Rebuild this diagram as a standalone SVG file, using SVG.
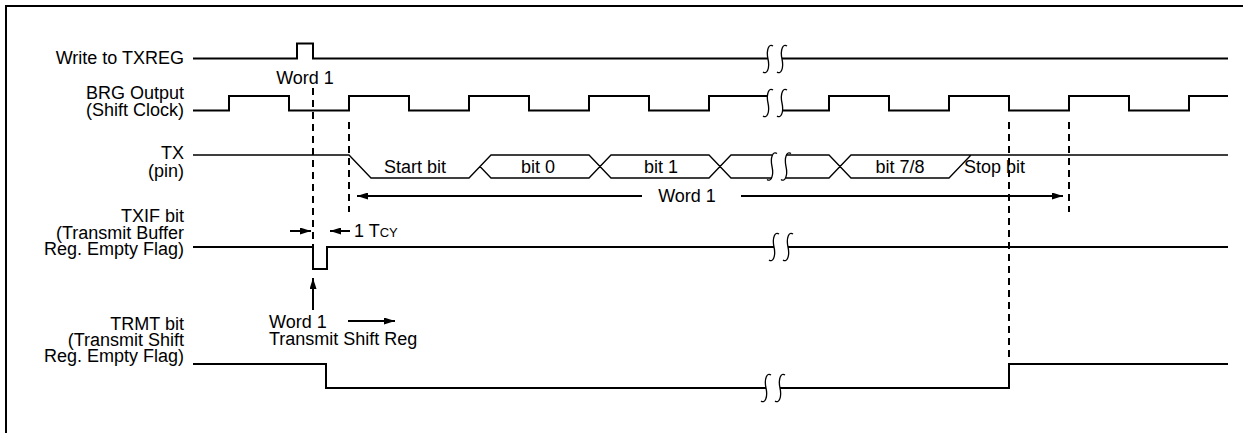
<svg xmlns="http://www.w3.org/2000/svg" width="1243" height="433" viewBox="0 0 1243 433">
<style>
text{font-family:"Liberation Sans",Arial,sans-serif;font-size:18px;fill:#000}
.lbl{text-anchor:end}
.sig{fill:none;stroke:#000;stroke-width:2}
.tx{fill:none;stroke:#000;stroke-width:1.3}
.brk{fill:none;stroke:#000;stroke-width:1.3}
.dash{stroke:#000;stroke-width:2;stroke-dasharray:7 5}
.arr{stroke:#000;stroke-width:2;marker-end:url(#ah)}
</style>
<defs>
<marker id="ah" markerUnits="userSpaceOnUse" markerWidth="11" markerHeight="7" refX="11" refY="3.5" orient="auto">
<path d="M0,0 L11,3.5 L0,7 z" fill="#000"/>
</marker>
<path id="s" d="M5,-13 C1,-16 -2,-9 0,0 C2,9 -1,16 -5,13"/>
</defs>
<rect x="6" y="6" width="1300" height="500" fill="none" stroke="#000" stroke-width="2"/>

<g id="write">
<text class="lbl" x="184" y="64">Write to TXREG</text>
<path class="sig" d="M193,58.5 H297 V43.5 H313 V58.5 H768 M782,58.5 H1228"/>
<use href="#s" class="brk" x="768" y="59"/>
<use href="#s" class="brk" x="782" y="59"/>
<text x="305" y="84" text-anchor="middle">Word 1</text>
</g>

<g id="brg">
<text class="lbl" x="184" y="99">BRG Output</text>
<text class="lbl" x="184" y="116">(Shift Clock)</text>
<path class="sig" d="M193,110.5 H229 V96 H289 V110.5 H349 V96 H409 V110.5 H469 V96 H529 V110.5 H589 V96 H649 V110.5 H709 V96 H768 M782,110.5 H829 V96 H889 V110.5 H949 V96 H1009 V110.5 H1069 V96 H1129 V110.5 H1189 V96 H1228"/>
<use href="#s" class="brk" x="768" y="103"/>
<use href="#s" class="brk" x="782" y="103"/>
</g>

<g id="tx">
<text class="lbl" x="184" y="159">TX</text>
<text class="lbl" x="184" y="177">(pin)</text>
<path class="tx" d="M193,155 H349 L371,178 H469 L491,155 H589 L611,178 H709 L731,155 H772 M480,166.5 L491,178 H589 L611,155 H709 L731,178 H772 M786,155 H829 L851,178 H949 L971,155 M786,178 H829 L851,155 H1228"/>
<use href="#s" class="brk" x="772" y="166.5"/>
<use href="#s" class="brk" x="786" y="166.5"/>
<text x="415" y="173" text-anchor="middle">Start bit</text>
<text x="538" y="173" text-anchor="middle">bit 0</text>
<text x="661" y="173" text-anchor="middle">bit 1</text>
<text x="900" y="173" text-anchor="middle">bit 7/8</text>
<text x="964" y="173">Stop bit</text>
</g>

<g id="txif">
<text class="lbl" x="184" y="222">TXIF bit</text>
<text class="lbl" x="184" y="239">(Transmit Buffer</text>
<text class="lbl" x="184" y="255">Reg. Empty Flag)</text>
<path class="sig" d="M193,247 H313 V269 H327 V247 H774 M788,247 H1228"/>
<use href="#s" class="brk" x="774" y="247"/>
<use href="#s" class="brk" x="788" y="247"/>
</g>

<g id="trmt">
<text class="lbl" x="184" y="330">TRMT bit</text>
<text class="lbl" x="184" y="346">(Transmit Shift</text>
<text class="lbl" x="184" y="362">Reg. Empty Flag)</text>
<path class="sig" d="M193,364 H326 V388 H766 M780,388 H1009 V364 H1228"/>
<use href="#s" class="brk" x="766" y="388"/>
<use href="#s" class="brk" x="780" y="388"/>
</g>

<g id="connectors">
<line class="dash" x1="313" y1="88" x2="313" y2="270"/>
<line class="dash" x1="349" y1="122" x2="349" y2="212"/>
<line class="dash" x1="1009" y1="122" x2="1009" y2="362"/>
<line class="dash" x1="1069" y1="122" x2="1069" y2="212"/>
<line class="arr" x1="642" y1="196" x2="357" y2="196"/>
<line class="arr" x1="741" y1="196" x2="1063" y2="196"/>
<text x="687" y="202" text-anchor="middle">Word 1</text>
<line class="arr" x1="290" y1="231" x2="311" y2="231"/>
<line class="arr" x1="350" y1="231" x2="330" y2="231"/>
<text x="354" y="237">1 T<tspan font-size="13">CY</tspan></text>
<line class="arr" x1="313" y1="310" x2="313" y2="278"/>
<text x="269" y="328">Word 1</text>
<text x="269" y="345">Transmit Shift Reg</text>
<line class="arr" x1="348" y1="321" x2="395" y2="321"/>
</g>
</svg>
